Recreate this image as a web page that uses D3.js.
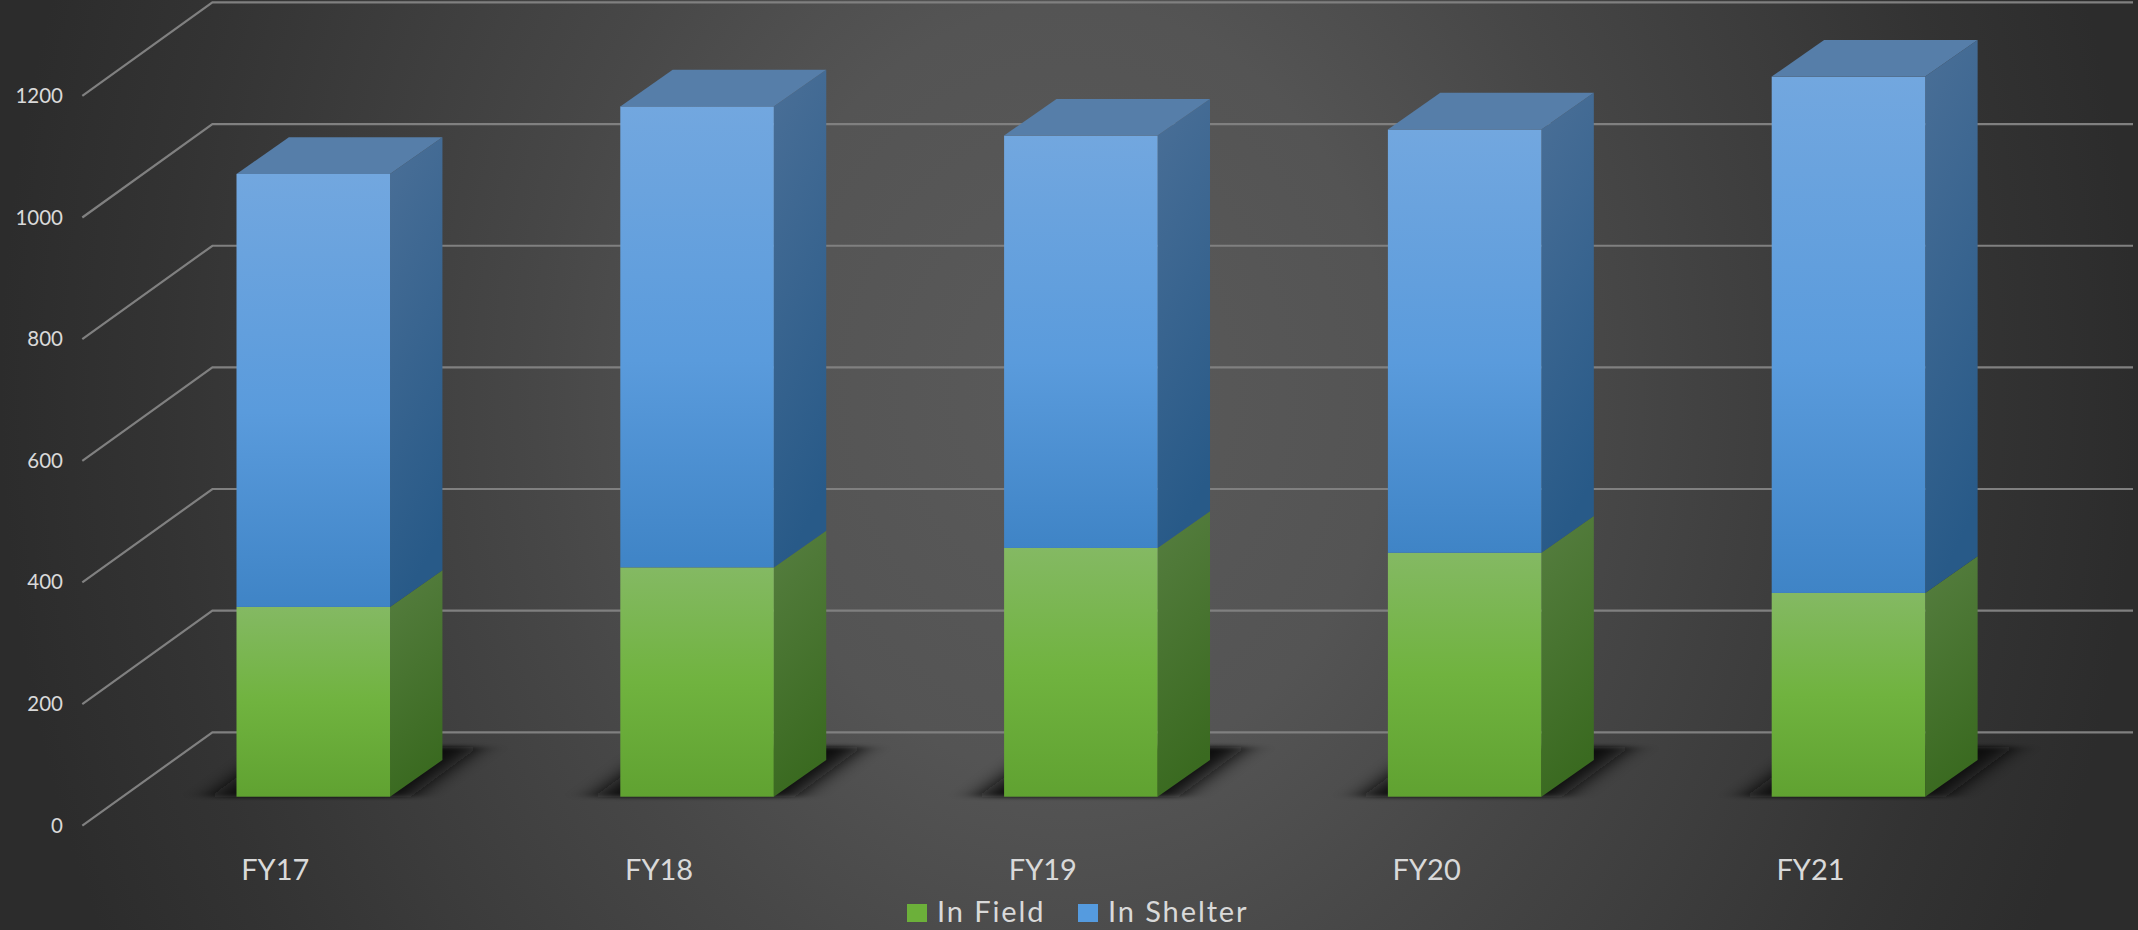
<!DOCTYPE html>
<html>
<head>
<meta charset="utf-8">
<script src="https://cdn.jsdelivr.net/npm/d3@7"></script>
<style>
  body { margin: 0; background: #2b2b2b; }
  svg { display: block; }
  text { font-family: Lato, "Open Sans", sans-serif; fill: #d9d9d9; }
</style>
</head>
<body>
<svg width="2138" height="930"></svg>
<script>
const categories = ["FY17", "FY18", "FY19", "FY20", "FY21"];
const inField = [312, 377, 409, 401, 335];
const inShelter = [712, 758, 678, 696, 849];
const yTicks = [0, 200, 400, 600, 800, 1000, 1200];
const seriesNames = ["In Field", "In Shelter"];

const width = 2138, height = 930;
const base = 796.7, pxPerUnit = 0.6082;

// floor of the fake 3D box
const floorFrontX = 82.3, floorBackX = 212.4;
const floorFrontOff = 29, floorBackOff = -64.4;
// bar depth
const depthX = 52.4, depthY = -36.7;

const svg = d3.select("svg");
const defs = svg.append("defs");

function gradient(id, stops, x2) {
  const g = defs.append("linearGradient").attr("id", id)
    .attr("x1", 0).attr("y1", 0).attr("x2", x2 || 0).attr("y2", 1);
  stops.forEach(s => g.append("stop").attr("offset", s[0]).attr("stop-color", s[1]));
}

// background is mostly a left/right falloff, very tall ellipse
const bg = defs.append("radialGradient").attr("id", "bg")
  .attr("cx", 0).attr("cy", 0).attr("r", 1)
  .attr("gradientTransform", "translate(0.5 0.42) scale(0.5 1.38)");
[[0, "#5a5a5a"], [0.3, "#545454"], [0.5, "#474747"], [0.85, "#333333"], [1, "#2c2c2c"]]
  .forEach(s => bg.append("stop").attr("offset", s[0]).attr("stop-color", s[1]));

gradient("frontField", [[0, "#84b963"], [0.5, "#70b33f"], [1, "#60a231"]]);
gradient("frontShelter", [[0, "#72a7df"], [0.55, "#5a9bdc"], [1, "#3f84c6"]]);
gradient("sideField", [[0, "#567e40"], [1, "#3a6a20"]], 0.2);
gradient("sideShelter", [[0, "#4a6f97"], [1, "#285a88"]], 0.2);

defs.append("filter").attr("id", "soft")
  .attr("filterUnits", "userSpaceOnUse")
  .attr("x", 0).attr("y", 700).attr("width", width).attr("height", 150)
  .append("feGaussianBlur").attr("stdDeviation", "15 2");

svg.append("rect").attr("width", width).attr("height", height).attr("fill", "url(#bg)");

const x = d3.scaleBand()
  .domain(categories)
  .range([122.6, 122.6 + 383.8 * 5])
  .paddingInner(0.6)
  .paddingOuter(0.3);
// band start has to land on the first bar front edge
const xShift = 236.5 - x("FY17");

const y = d3.scaleLinear()
  .domain([0, 1200])
  .range([base, base - 1200 * pxPerUnit]);

const rows = categories.map((c, i) => ({cat: c, "In Field": inField[i], "In Shelter": inShelter[i]}));
const stacked = d3.stack().keys(seriesNames)(rows);

// gridlines: side wall diagonal then back wall
const grid = svg.append("g");
const gridLine = d3.line();
grid.selectAll("path").data(yTicks).join("path")
  .attr("fill", "none")
  .attr("stroke", "#808080")
  .attr("stroke-width", 2.2)
  .attr("d", t => gridLine([
    [floorFrontX, y(t) + floorFrontOff],
    [floorBackX, y(t) + floorBackOff],
    [2133, y(t) + floorBackOff]
  ]));

// floor shadows
const bw = x.bandwidth();
svg.append("g").attr("filter", "url(#soft)")
  .selectAll("path").data(categories).join("path")
  .attr("fill", "#111111")
  .attr("d", c => {
    const l = x(c) + xShift;
    return d3.line()([
      [l - 26, base],
      [l + 42, base - 50],
      [l + 242, base - 50],
      [l + 174, base]
    ]) + "Z";
  });

const bars = svg.append("g");
const faces = [
  {name: "In Field", front: "url(#frontField)", side: "url(#sideField)", topFace: null},
  {name: "In Shelter", front: "url(#frontShelter)", side: "url(#sideShelter)", topFace: "#567ea9"}
];

stacked.forEach((layer, i) => {
  const f = faces[i];
  layer.forEach((d, j) => {
    const l = x(categories[j]) + xShift, r = l + bw;
    const y0 = y(d[0]), y1 = y(d[1]);
    const g = bars.append("g").attr("class", "bar");
    g.append("path")
      .attr("fill", f.side)
      .attr("d", d3.line()([[r, y0], [r + depthX, y0 + depthY], [r + depthX, y1 + depthY], [r, y1]]) + "Z");
    g.append("rect")
      .attr("x", l).attr("y", y1)
      .attr("width", bw).attr("height", y0 - y1)
      .attr("fill", f.front);
    if (f.topFace) {
      g.append("path")
        .attr("fill", f.topFace)
        .attr("d", d3.line()([[l, y1], [l + depthX, y1 + depthY], [r + depthX, y1 + depthY], [r, y1]]) + "Z");
    }
  });
});

// axes
const yAxis = svg.append("g")
  .attr("transform", `translate(69, ${floorFrontOff})`)
  .call(d3.axisLeft(y).tickValues(yTicks).tickSize(0).tickFormat(d3.format("d")));
yAxis.select(".domain").remove();
yAxis.selectAll("text").attr("font-size", 20.5).attr("x", -6).style("font-family", "Lato").attr("fill", "#d9d9d9");

const xAxis = svg.append("g")
  .attr("transform", `translate(${xShift - 38}, 851)`)
  .call(d3.axisBottom(x).tickSize(0));
xAxis.select(".domain").remove();
xAxis.selectAll("text").attr("font-size", 29).attr("y", 0).attr("dy", "1em").style("font-family", "Lato").attr("fill", "#d9d9d9");

// legend
const legendX = [907, 1078];
const legend = svg.append("g").selectAll("g").data(seriesNames).join("g")
  .attr("transform", (d, i) => `translate(${legendX[i]}, 904)`);
legend.append("rect").attr("width", 20).attr("height", 18)
  .attr("fill", (d, i) => ["#6cb03a", "#559bdf"][i]);
legend.append("text")
  .attr("x", 30).attr("y", 18)
  .attr("font-size", 29)
  .attr("letter-spacing", 1.9)
  .text(d => d);
</script>
</body>
</html>
